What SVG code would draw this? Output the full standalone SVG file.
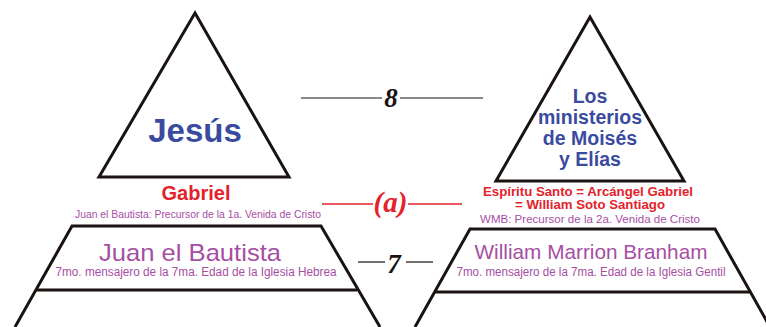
<svg xmlns="http://www.w3.org/2000/svg" width="766" height="327" viewBox="0 0 766 327">
<style>
.shape{fill:none;stroke:#1a1311;stroke-width:3;stroke-linejoin:miter}
.blue{font-family:"Liberation Sans",Arial,sans-serif;font-weight:bold;fill:#3a4b9f;text-anchor:middle}
.red{font-family:"Liberation Sans",Arial,sans-serif;font-weight:bold;fill:#e3222b;text-anchor:middle}
.pur{font-family:"Liberation Sans",Arial,sans-serif;fill:#a64ea3;text-anchor:middle}
.num{font-family:"Liberation Serif","Times New Roman",serif;font-weight:bold;font-style:italic;text-anchor:middle}
.ln{stroke:#1a1311;stroke-width:1.2}
.lnr{stroke:#e3222b;stroke-width:1.5}
</style>
<rect width="766" height="327" fill="#ffffff"/>
<g id="jesus">
<polygon class="shape" points="195,13 99,177 289,177"/>
<text class="blue" x="195" y="142" font-size="33">Jesús</text>
</g>
<g id="gabriel">
<text class="red" x="196" y="200" font-size="20">Gabriel</text>
<text class="pur" x="198" y="218" font-size="11" textLength="246" lengthAdjust="spacingAndGlyphs">Juan el Bautista: Precursor de la 1a. Venida de Cristo</text>
</g>
<g id="juan">
<polyline class="shape" points="15,327 72,226 321,226 380,327"/>
<line class="shape" x1="36" y1="290" x2="357" y2="290"/>
<text class="pur" x="190" y="261" font-size="24" textLength="182" lengthAdjust="spacingAndGlyphs">Juan el Bautista</text>
<text class="pur" x="196" y="276" font-size="12" textLength="281" lengthAdjust="spacingAndGlyphs">7mo. mensajero de la 7ma. Edad de la Iglesia Hebrea</text>
</g>
<g id="moises-elias">
<polygon class="shape" points="590,17 496,181 684,181"/>
<text class="blue" x="590" y="103" font-size="19.5">Los</text>
<text class="blue" x="590" y="124" font-size="19.5">ministerios</text>
<text class="blue" x="590" y="145" font-size="19.5">de Moisés</text>
<text class="blue" x="590" y="166" font-size="19.5">y Elías</text>
</g>
<g id="espiritu">
<text class="red" x="588" y="195.5" font-size="12.8" textLength="210" lengthAdjust="spacingAndGlyphs">Espíritu Santo = Arcángel Gabriel</text>
<text class="red" x="590" y="208.5" font-size="12.8" textLength="150" lengthAdjust="spacingAndGlyphs">= William Soto Santiago</text>
<text class="pur" x="590" y="223" font-size="11.5" textLength="220" lengthAdjust="spacingAndGlyphs">WMB: Precursor de la 2a. Venida de Cristo</text>
</g>
<g id="branham">
<polyline class="shape" points="415,327 470,229 715,229 770,327"/>
<line class="shape" x1="434" y1="292" x2="750" y2="292"/>
<text class="pur" x="591" y="259" font-size="21" textLength="233" lengthAdjust="spacingAndGlyphs">William Marrion Branham</text>
<text class="pur" x="591" y="276" font-size="12" textLength="269" lengthAdjust="spacingAndGlyphs">7mo. mensajero de la 7ma. Edad de la Iglesia Gentil</text>
</g>
<g id="connectors">
<line class="ln" x1="301" y1="98" x2="382" y2="98"/>
<line class="ln" x1="400" y1="98" x2="483" y2="98"/>
<text class="num" x="391" y="107" font-size="27" fill="#1a1311">8</text>
<line class="lnr" x1="322" y1="204" x2="373" y2="204"/>
<line class="lnr" x1="408" y1="204" x2="462" y2="204"/>
<text class="num" x="390.5" y="212" font-size="29" fill="#e3222b">(a)</text>
<line class="ln" x1="358" y1="262" x2="385" y2="262"/>
<line class="ln" x1="406" y1="262" x2="433" y2="262"/>
<text class="num" x="394" y="273" font-size="27" fill="#1a1311">7</text>
</g>
</svg>
